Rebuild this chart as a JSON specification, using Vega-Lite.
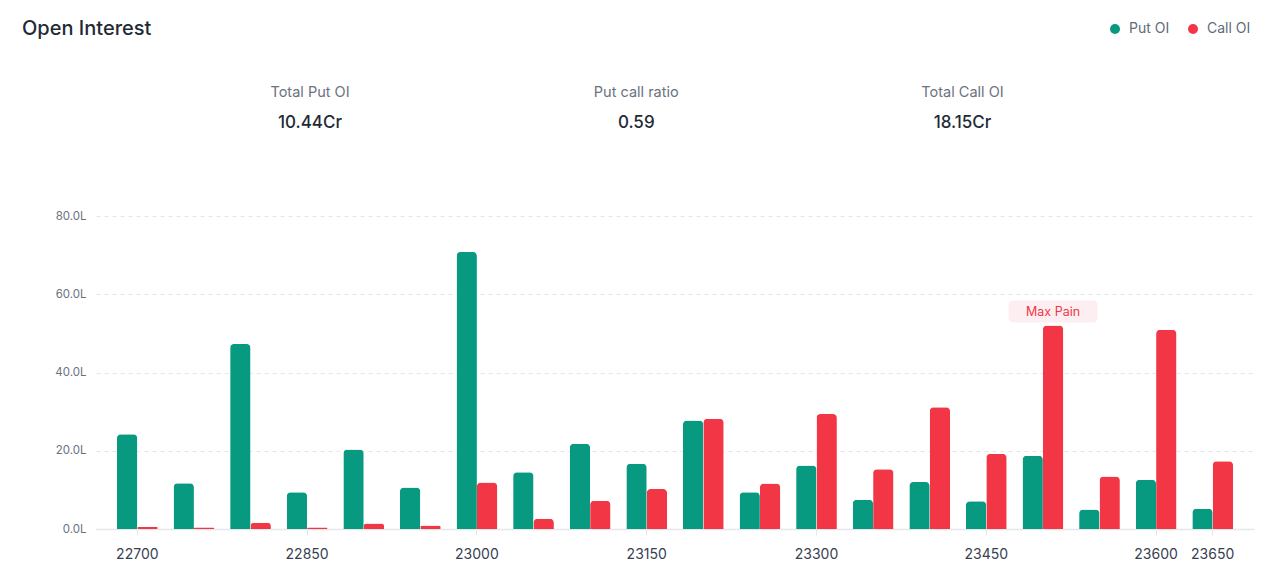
{
  "$schema": "https://vega.github.io/schema/vega-lite/v6.json",
  "autosize": {"type": "pad"},
  "padding": {"left": 22, "top": 14, "right": 28, "bottom": 24},
  "background": "white",
  "title": {
    "text": "Open Interest",
    "anchor": "start",
    "frame": "group",
    "fontSize": 20,
    "fontWeight": 500,
    "color": "#1f2a37",
    "font": "Inter",
    "dx": -74,
    "offset": -25
  },
  "bounds": "flush",
  "spacing": 70,
  "datasets": {
    "stats": [
      {"col": 1, "row": "label", "line": 1, "text": "Total Put OI"},
      {"col": 1, "row": "value", "line": 2, "text": "10.44Cr"},
      {"col": 2, "row": "label", "line": 1, "text": "Put call ratio"},
      {"col": 2, "row": "value", "line": 2, "text": "0.59"},
      {"col": 3, "row": "label", "line": 1, "text": "Total Call OI"},
      {"col": 3, "row": "value", "line": 2, "text": "18.15Cr"}
    ],
    "oi": [
      {"strike": 22700, "type": "Put OI", "oi": 24.2}, {"strike": 22700, "type": "Call OI", "oi": 0.6},
      {"strike": 22750, "type": "Put OI", "oi": 11.7}, {"strike": 22750, "type": "Call OI", "oi": 0.4},
      {"strike": 22800, "type": "Put OI", "oi": 47.3}, {"strike": 22800, "type": "Call OI", "oi": 1.6},
      {"strike": 22850, "type": "Put OI", "oi": 9.4}, {"strike": 22850, "type": "Call OI", "oi": 0.4},
      {"strike": 22900, "type": "Put OI", "oi": 20.3}, {"strike": 22900, "type": "Call OI", "oi": 1.4},
      {"strike": 22950, "type": "Put OI", "oi": 10.6}, {"strike": 22950, "type": "Call OI", "oi": 0.9},
      {"strike": 23000, "type": "Put OI", "oi": 70.8}, {"strike": 23000, "type": "Call OI", "oi": 11.9},
      {"strike": 23050, "type": "Put OI", "oi": 14.5}, {"strike": 23050, "type": "Call OI", "oi": 2.65},
      {"strike": 23100, "type": "Put OI", "oi": 21.8}, {"strike": 23100, "type": "Call OI", "oi": 7.2},
      {"strike": 23150, "type": "Put OI", "oi": 16.7}, {"strike": 23150, "type": "Call OI", "oi": 10.2},
      {"strike": 23200, "type": "Put OI", "oi": 27.7}, {"strike": 23200, "type": "Call OI", "oi": 28.2},
      {"strike": 23250, "type": "Put OI", "oi": 9.4}, {"strike": 23250, "type": "Call OI", "oi": 11.6},
      {"strike": 23300, "type": "Put OI", "oi": 16.2}, {"strike": 23300, "type": "Call OI", "oi": 29.4},
      {"strike": 23350, "type": "Put OI", "oi": 7.5}, {"strike": 23350, "type": "Call OI", "oi": 15.3},
      {"strike": 23400, "type": "Put OI", "oi": 12.0}, {"strike": 23400, "type": "Call OI", "oi": 31.1},
      {"strike": 23450, "type": "Put OI", "oi": 7.1}, {"strike": 23450, "type": "Call OI", "oi": 19.2},
      {"strike": 23500, "type": "Put OI", "oi": 18.7}, {"strike": 23500, "type": "Call OI", "oi": 52.0},
      {"strike": 23550, "type": "Put OI", "oi": 5.0}, {"strike": 23550, "type": "Call OI", "oi": 13.4},
      {"strike": 23600, "type": "Put OI", "oi": 12.6}, {"strike": 23600, "type": "Call OI", "oi": 50.9},
      {"strike": 23650, "type": "Put OI", "oi": 5.2}, {"strike": 23650, "type": "Call OI", "oi": 17.3}
    ],
    "maxpain": [
      {"strike": 23500, "type": "Call OI", "oi": 52.0, "label": "Max Pain"}
    ]
  },
  "vconcat": [
    {
      "width": 1158,
      "height": 132,
      "data": {"name": "stats"},
      "encoding": {
        "x": {"field": "col", "type": "quantitative", "scale": {"domain": [0.3441, 3.8935]}, "axis": null},
        "y": {"field": "line", "type": "quantitative", "scale": {"domain": [-1.484, 2.774], "reverse": true, "nice": false, "zero": false}, "axis": null},
        "text": {"field": "text"}
      },
      "layer": [
        {
          "transform": [{"filter": "datum.row === 'label'"}],
          "mark": {"type": "text", "fontSize": 14.5, "color": "#6b7280", "font": "Inter", "dy": 2}
        },
        {
          "transform": [{"filter": "datum.row === 'value'"}],
          "mark": {"type": "text", "fontSize": 17, "fontWeight": 500, "color": "#1f2a37", "font": "Inter", "dy": 1}
        }
      ]
    },
    {
      "width": 1158,
      "height": 313,
      "layer": [
        {
          "data": {"name": "oi"},
          "mark": {"type": "bar", "cornerRadiusTopLeft": 4, "cornerRadiusTopRight": 4},
          "encoding": {
            "x": {
              "field": "strike", "type": "ordinal",
              "scale": {"paddingInner": 0.28, "paddingOuter": 0.37},
              "axis": {
                "values": [22700, 22850, 23000, 23150, 23300, 23450, 23600, 23650],
                "labelAngle": 0, "title": null, "grid": false,
                "domainColor": "#e5e7eb", "domainWidth": 1.5,
                "tickColor": "#e5e7eb", "tickSize": 6,
                "labelFontSize": 14, "labelColor": "#374151", "labelFont": "Inter", "labelPadding": 12
              }
            },
            "xOffset": {"field": "type", "type": "nominal", "sort": ["Put OI", "Call OI"], "scale": {"domain": ["Put OI", "Call OI"], "paddingInner": 0, "paddingOuter": 0}},
            "y": {
              "field": "oi", "type": "quantitative",
              "scale": {"domain": [0, 80], "nice": false},
              "axis": {
                "values": [0, 20, 40, 60, 80],
                "labelExpr": "format(datum.value, '.1f') + 'L'",
                "title": null, "domain": false, "ticks": false,
                "grid": true, "gridDash": [4, 4], "gridColor": "#e5e7eb",
                "labelFontSize": 11.5, "labelColor": "#6b7280", "labelFont": "Inter", "labelPadding": 10
              }
            },
            "color": {
              "field": "type", "type": "nominal",
              "scale": {"domain": ["Put OI", "Call OI"], "range": ["#089981", "#f23645"]},
              "legend": {
                "title": null, "orient": "none", "direction": "horizontal",
                "legendX": 1012, "legendY": 8,
                "symbolType": "circle", "symbolSize": 100, "symbolStrokeWidth": 0,
                "labelFontSize": 14, "labelColor": "#5f6b7a", "labelFont": "Inter",
                "labelOffset": 7, "columnPadding": 16
              }
            }
          }
        },
        {
          "data": {"name": "maxpain"},
          "mark": {
            "type": "point", "filled": true, "opacity": 1, "color": "#fdeff1", "size": 7921, "yOffset": -14,
            "shape": "M-0.888,-0.247 H0.888 Q1,-0.247 1,-0.135 V0.135 Q1,0.247 0.888,0.247 H-0.888 Q-1,0.247 -1,0.135 V-0.135 Q-1,-0.247 -0.888,-0.247 Z"
          },
          "encoding": {
            "x": {"field": "strike", "type": "ordinal"},
            "xOffset": {"field": "type", "type": "nominal"},
            "y": {"field": "oi", "type": "quantitative"}
          }
        },
        {
          "data": {"name": "maxpain"},
          "mark": {"type": "text", "color": "#f23645", "fontSize": 12.5, "font": "Inter", "yOffset": -14},
          "encoding": {
            "x": {"field": "strike", "type": "ordinal"},
            "xOffset": {"field": "type", "type": "nominal"},
            "y": {"field": "oi", "type": "quantitative"},
            "text": {"field": "label"}
          }
        }
      ]
    }
  ],
  "config": {
    "view": {"stroke": null},
    "font": "Inter"
  }
}
